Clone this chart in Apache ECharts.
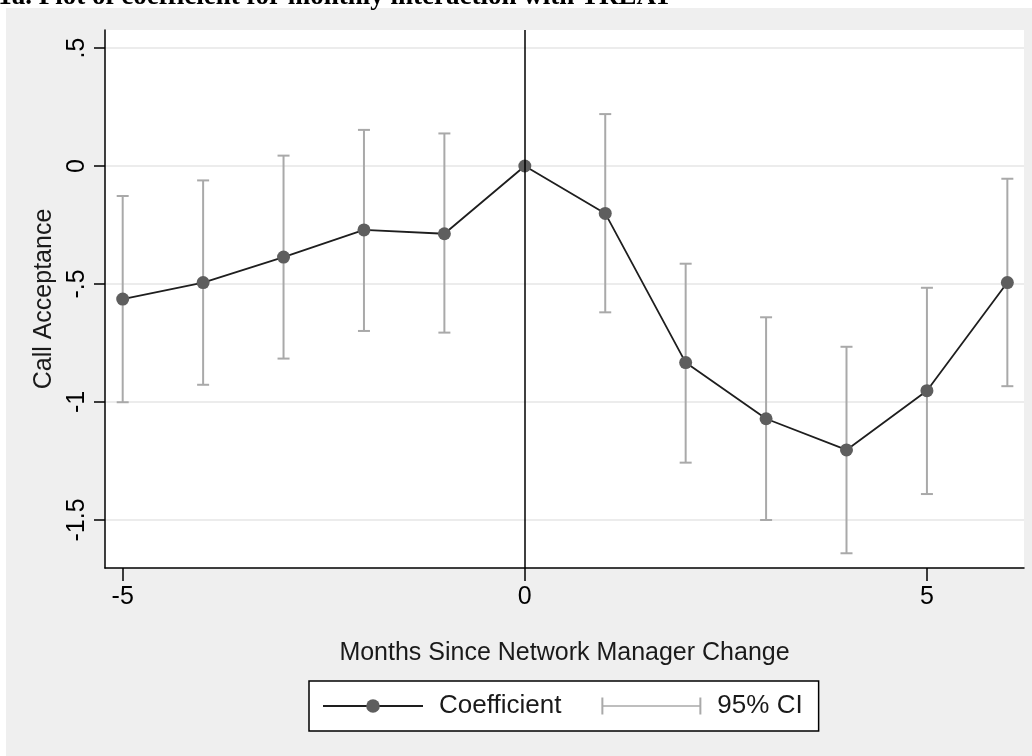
<!DOCTYPE html>
<html>
<head>
<meta charset="utf-8">
<style>
  html, body { margin: 0; padding: 0; background: #ffffff; }
  #chart { width: 1032px; height: 756px; }
</style>
<script src="https://cdn.jsdelivr.net/npm/echarts@6/dist/echarts.min.js"></script>
</head>
<body>
<div id="chart"></div>
<script>
// ---- data ----
const months = [-5, -4, -3, -2, -1, 0, 1, 2, 3, 4, 5, 6];
const coefficient = [-0.564, -0.494, -0.386, -0.271, -0.287, 0, -0.201, -0.833, -1.071, -1.203, -0.952, -0.494];
const ciLower = [-1.001, -0.927, -0.816, -0.699, -0.706, null, -0.620, -1.257, -1.500, -1.641, -1.390, -0.933];
const ciUpper = [-0.127, -0.061, 0.044, 0.153, 0.138, null, 0.220, -0.414, -0.641, -0.766, -0.516, -0.054];
const xTickValues = [-5, 0, 5];
const xTickLabels = ['-5', '0', '5'];
const yTickValues = [-1.5, -1, -0.5, 0, 0.5];
const yTickLabels = ['-1.5', '-1', '-.5', '0', '.5'];
const titleText = '4.1a. Plot of coefficient for monthly interaction with TREAT';
const xTitle = 'Months Since Network Manager Change';
const yTitle = 'Call Acceptance';
const seriesNames = ['Coefficient', '95% CI'];

const lineData = months.map((m, i) => [m, coefficient[i]]);
const ciData = months.map((m, i) => [m, ciLower[i], ciUpper[i]]).filter(d => d[1] !== null);

const FONT = '"Liberation Sans", Arial, sans-serif';
const CI_COLOR = '#a9a9a9';

const chart = echarts.init(document.getElementById('chart'), null, { renderer: 'canvas' });

function labelFrom(values, labels) {
  return function (v) {
    for (let i = 0; i < values.length; i++) {
      if (Math.abs(values[i] - v) < 1e-9) return labels[i];
    }
    return '';
  };
}

const option = {
  backgroundColor: '#ffffff',
  animation: false,
  graphic: [
    { type: 'rect', z: -100, silent: true, shape: { x: 6, y: 8, width: 1026, height: 748 }, style: { fill: '#efefef' } },
    { type: 'text', z: 10, x: 672, y: 11, style: { text: titleText, align: 'right', verticalAlign: 'bottom', font: 'bold 27px "Liberation Serif", "Times New Roman", serif', fill: '#000' } }
  ],
  grid: {
    left: 105, right: 8, top: 30, bottom: 188,
    show: true, backgroundColor: '#ffffff', borderWidth: 0,
    containLabel: false
  },
  legend: {
    left: 309, top: 681,
    orient: 'horizontal',
    backgroundColor: '#ffffff',
    borderColor: '#000000', borderWidth: 1.5, borderRadius: 0,
    padding: [12, 16, 12, 13],
    itemGap: 40,
    itemWidth: 100, itemHeight: 17,
    textStyle: { fontFamily: FONT, fontSize: 26, color: '#1a1a1a', padding: [0, 0, 0, 11] },
    data: [
      { name: seriesNames[0] },
      { name: seriesNames[1], icon: 'path://M0,0h2v17h-2z M2,7.75h96v1.5h-96z M98,0h2v17h-2z', itemStyle: { color: CI_COLOR } }
    ],
    selectedMode: false
  },
  xAxis: {
    type: 'value',
    min: -5.22, max: 6.207,
    name: xTitle, nameLocation: 'middle', nameGap: 73,
    nameTextStyle: { fontFamily: FONT, fontSize: 25, color: '#1a1a1a' },
    axisLine: { show: true, onZero: false, lineStyle: { color: '#000', width: 1.5 } },
    axisTick: { show: true, length: 13, lineStyle: { color: '#000', width: 1.5 }, customValues: xTickValues },
    axisLabel: { fontFamily: FONT, fontSize: 25, color: '#000', margin: 17, customValues: xTickValues, formatter: labelFrom(xTickValues, xTickLabels) },
    splitLine: { show: false }
  },
  yAxis: {
    type: 'value',
    min: -1.7034, max: 0.5763,
    name: yTitle, nameLocation: 'middle', nameGap: 38, nameRotate: 90,
    nameTextStyle: { fontFamily: FONT, fontSize: 25, color: '#1a1a1a' },
    axisLine: { show: true, onZero: false, lineStyle: { color: '#000', width: 1.5 } },
    axisTick: { show: true, length: 11, lineStyle: { color: '#000', width: 1.5 }, customValues: yTickValues },
    axisLabel: { fontFamily: FONT, fontSize: 25, color: '#000', rotate: 90, margin: 15, customValues: yTickValues, formatter: labelFrom(yTickValues, yTickLabels) },
    splitLine: { show: true, lineStyle: { color: '#e6e6e6', width: 1.5 } }
  },
  series: [
    {
      name: seriesNames[1],
      type: 'custom',
      z: 2,
      itemStyle: { color: CI_COLOR },
      encode: { x: 0, y: [1, 2] },
      data: ciData,
      renderItem: function (params, api) {
        const x = api.value(0);
        const lo = api.coord([x, api.value(1)]);
        const hi = api.coord([x, api.value(2)]);
        const w = 6;
        const st = { stroke: CI_COLOR, lineWidth: 2 };
        return {
          type: 'group',
          children: [
            { type: 'line', shape: { x1: lo[0], y1: lo[1], x2: hi[0], y2: hi[1] }, style: st },
            { type: 'line', shape: { x1: lo[0] - w, y1: lo[1], x2: lo[0] + w, y2: lo[1] }, style: st },
            { type: 'line', shape: { x1: hi[0] - w, y1: hi[1], x2: hi[0] + w, y2: hi[1] }, style: st }
          ]
        };
      }
    },
    {
      name: seriesNames[0],
      type: 'line',
      z: 3,
      data: lineData,
      symbol: 'circle',
      symbolSize: 13,
      showSymbol: true,
      lineStyle: { color: '#1e1e1e', width: 1.8 },
      itemStyle: { color: '#5e5e5e' },
      markLine: {
        silent: true,
        symbol: ['none', 'none'],
        label: { show: false },
        lineStyle: { color: '#000', width: 1.5, type: 'solid' },
        data: [{ xAxis: 0 }]
      }
    }
  ]
};

chart.setOption(option);
</script>
</body>
</html>
